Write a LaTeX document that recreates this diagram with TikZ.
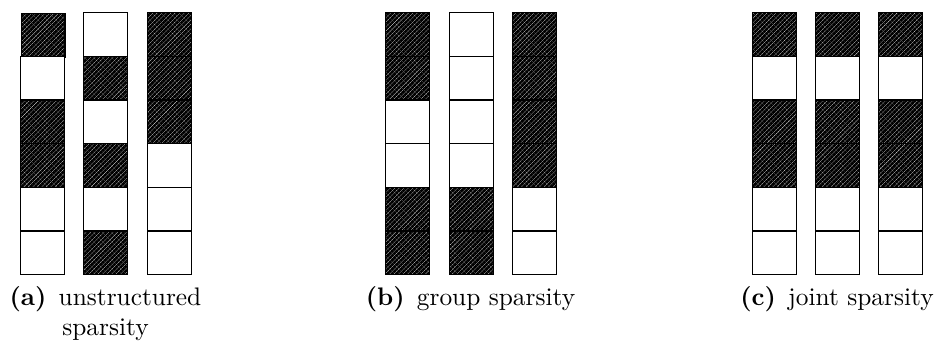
\documentclass[tikz,border=0pt]{standalone}
\usepackage{amsmath}
\usetikzlibrary{patterns.meta, positioning}

\tikzset{
    cell/.style={draw, line width=0.55pt, minimum size=17.9pt, inner sep=0pt, anchor=north west},
    c0/.style={cell, fill=white},
    c1/.style={cell, pattern={Lines[angle=45, distance=1.3pt, line width=1.15pt]}},
    caption/.style={anchor=base, inner sep=0pt, font=\fontsize{10.4}{12.5}\selectfont}
}

\begin{document}
\begin{tikzpicture}[x=0.41pt, y=-0.41pt]
    \useasboundingbox (0,0) rectangle (939,352);

    % Columns: name / left edge / cell pattern from top to bottom
    \foreach \name/\x/\cells in {a1/20/{1,0,1,1,0,0}, a2/83/{0,1,0,1,0,1}, a3/147/{1,1,1,0,0,0},
                                 b1/385/{1,1,0,0,1,1}, b2/449/{0,0,0,0,1,1}, b3/512/{1,1,1,1,0,0},
                                 c1/752/{1,0,1,1,0,0}, c2/815/{1,0,1,1,0,0}, c3/878/{1,0,1,1,0,0}} {
        \foreach \v [count=\r] in \cells {
            \node[c\v] (\name r\r) at (\x, {12+(\r-1)*43.7}) {};
        }
    }

    % Captions, centred under each group
    \node[caption] (capa) at (105.5,306) {\textbf{(a)}\hspace{5pt}unstructured};
    \node[caption] (capa2) at (105.5,336) {sparsity};
    \node[caption] (capb) at (470.5,306) {\textbf{(b)}\hspace{5pt}group sparsity};
    \node[caption] (capc) at (837,306) {\textbf{(c)}\hspace{5pt}joint sparsity};
\end{tikzpicture}
\end{document}
